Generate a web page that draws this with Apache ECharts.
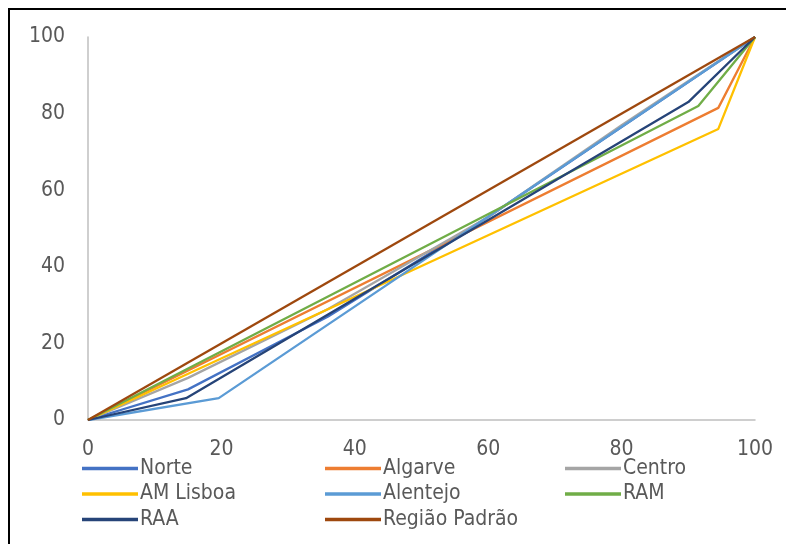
<!DOCTYPE html>
<html>
<head>
<meta charset="utf-8">
<script src="https://cdn.jsdelivr.net/npm/echarts@6/dist/echarts.min.js"></script>
<style>
  html, body { margin: 0; padding: 0; background: #fff; }
  #lorenzChart { width: 786px; height: 544px; }
</style>
</head>
<body>
<div id="lorenzChart"></div>
<script>
// pontos das curvas (x = % acumulada da população, y = % acumulada)
var norteX = [0, 15, 36, 60, 100]
var norteY = [0, 8, 27, 53, 100]
var algarveX = [0, 94.5, 100]
var algarveY = [0, 81.5, 100]
var centroX = [0, 15, 36, 60, 80, 100]
var centroY = [0, 11, 29, 53, 77, 100]
var lisboaX = [0, 94.5, 100]
var lisboaY = [0, 76, 100]
var alentejoX = [0, 19.6, 100]
var alentejoY = [0, 5.7, 100]
var ramX = [0, 91.5, 100]
var ramY = [0, 82, 100]
var raaX = [0, 14.7, 90, 100]
var raaY = [0, 5.7, 83, 100]
var padraoX = [0, 100]
var padraoY = [0, 100]

var seriesNames = ['Norte', 'Algarve', 'Centro', 'AM Lisboa', 'Alentejo', 'RAM', 'RAA', 'Região Padrão']
var seriesX = [norteX, algarveX, centroX, lisboaX, alentejoX, ramX, raaX, padraoX]
var seriesY = [norteY, algarveY, centroY, lisboaY, alentejoY, ramY, raaY, padraoY]
var colors = ['#4472C4', '#ED7D31', '#A5A5A5', '#FFC000', '#5B9BD5', '#70AD47', '#264478', '#9E480E']

var font = '"DejaVu Sans Condensed", "Liberation Sans Narrow", sans-serif'

function pairs(xs, ys) {
  return xs.map(function(x, i) { return [x, ys[i]] })
}

var series = seriesNames.map(function(name, i) {
  return {
    name: name,
    type: 'line',
    data: pairs(seriesX[i], seriesY[i]),
    showSymbol: false,
    symbol: 'none',
    lineStyle: { width: 2.3, color: colors[i] },
    itemStyle: { color: colors[i] }
  }
})

function legendCol(left, names) {
  return {
    orient: 'vertical',
    left: left,
    top: 453,
    icon: 'rect',
    itemWidth: 56,
    itemHeight: 3.5,
    itemGap: 4.5,
    data: names,
    textStyle: { fontFamily: font, fontSize: 21, color: '#595959', padding: [0, 0, 0, -3] }
  }
}

var chart = echarts.init(document.getElementById('lorenzChart'))
chart.setOption({
  backgroundColor: '#fff',
  animation: false,
  color: colors,
  graphic: [{
    type: 'rect',
    shape: { x: 9, y: 9, width: 800, height: 560 },
    style: { fill: 'none', stroke: '#000', lineWidth: 2 },
    silent: true
  }],
  grid: { left: 88, right: 31, top: 37, bottom: 124 },
  xAxis: {
    type: 'value',
    min: 0,
    max: 100,
    interval: 20,
    splitLine: { show: false },
    axisTick: { show: false },
    axisLine: { show: true, lineStyle: { color: '#BFBFBF', width: 1.5 } },
    axisLabel: { margin: 19, fontFamily: font, fontSize: 21, color: '#595959' }
  },
  yAxis: {
    type: 'value',
    min: 0,
    max: 100,
    interval: 20,
    splitLine: { show: false },
    axisTick: { show: false },
    axisLine: { show: true, lineStyle: { color: '#BFBFBF', width: 1.5 } },
    axisLabel: { margin: 23, fontFamily: font, fontSize: 21, color: '#595959' }
  },
  legend: [
    legendCol(77, ['Norte', 'AM Lisboa', 'RAA']),
    legendCol(320, ['Algarve', 'Alentejo', 'Região Padrão']),
    legendCol(560, ['Centro', 'RAM'])
  ],
  series: series
})
</script>
</body>
</html>
